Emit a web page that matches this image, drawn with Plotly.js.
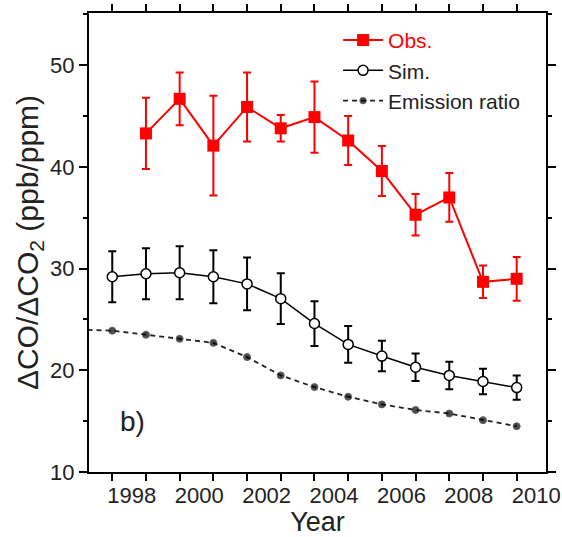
<!DOCTYPE html>
<html>
<head>
<meta charset="utf-8">
<script src="https://cdn.plot.ly/plotly-3.0.1.min.js"></script>
<style>html,body{margin:0;padding:0;background:#fff;}#chart{width:562px;height:537px;}</style>
</head>
<body>
<div id="chart"></div>
<script>
// Data
const obsYears = [1998, 1999, 2000, 2001, 2002, 2003, 2004, 2005, 2006, 2007, 2008, 2009];
const obsValues = [43.3, 46.7, 42.1, 45.9, 43.8, 44.9, 42.6, 39.6, 35.3, 37.0, 28.7, 29.0];
const obsErrors = [3.5, 2.6, 4.9, 3.4, 1.3, 3.5, 2.4, 2.45, 2.05, 2.4, 1.6, 2.15];

const simYears = [1997, 1998, 1999, 2000, 2001, 2002, 2003, 2004, 2005, 2006, 2007, 2008, 2009];
const simValues = [29.2, 29.5, 29.6, 29.2, 28.5, 27.05, 24.6, 22.55, 21.4, 20.3, 19.5, 18.9, 18.3];
const simErrors = [2.5, 2.5, 2.6, 2.6, 2.6, 2.5, 2.2, 1.8, 1.5, 1.35, 1.35, 1.25, 1.2];

const emisYears = [1996, 1997, 1998, 1999, 2000, 2001, 2002, 2003, 2004, 2005, 2006, 2007, 2008, 2009];
const emisValues = [24.0, 23.9, 23.5, 23.1, 22.7, 21.3, 19.5, 18.35, 17.4, 16.65, 16.1, 15.75, 15.1, 14.5];

const labelYears = [1998, 2000, 2002, 2004, 2006, 2008, 2010];
const labelText = labelYears.map(String);

const RED = '#ff0000';
const FONT = 'Liberation Sans, Arial, sans-serif';

const emisMarkerSizes = emisYears.map((y, i) => i === 0 ? 0 : 7);

const traces = [
  {
    x: obsYears, y: obsValues, name: '<span style="color:#ff0000">Obs.</span>',
    type: 'scatter', mode: 'lines+markers',
    line: {color: RED, width: 2},
    marker: {symbol: 'square', size: 12, color: RED},
    error_y: {type: 'data', array: obsErrors, visible: true, color: RED, thickness: 2, width: 4}
  },
  {
    x: simYears, y: simValues, name: 'Sim.',
    type: 'scatter', mode: 'lines+markers',
    line: {color: '#000', width: 1.5},
    marker: {symbol: 'circle', size: 10, color: '#fff', line: {color: '#000', width: 1.5}},
    error_y: {type: 'data', array: simErrors, visible: true, color: '#000', thickness: 2, width: 4}
  },
  {
    x: emisYears, y: emisValues, name: 'Emission ratio',
    type: 'scatter', mode: 'lines+markers',
    line: {color: '#222', width: 1.8, dash: '5px,4px'},
    marker: {symbol: 'circle', size: emisMarkerSizes, color: '#000'}
  }
];

const x0 = 1996.31, x1 = 2009.87, labelShift = 0.42;

const layout = {
  width: 562, height: 537,
  margin: {l: 89, r: 16, t: 13, b: 65},
  paper_bgcolor: '#fff', plot_bgcolor: '#fff',
  font: {family: FONT, color: '#222', size: 22},
  showlegend: true,
  legend: {
    x: 0.545, y: 0.985, xanchor: 'left', yanchor: 'top',
    bgcolor: 'rgba(0,0,0,0)', borderwidth: 0,
    font: {family: FONT, size: 21, color: '#222'},
    itemwidth: 40, tracegroupgap: 0
  },
  xaxis: {
    range: [x0, x1], showgrid: false, zeroline: false,
    showline: true, linecolor: '#000', linewidth: 2, mirror: 'ticks',
    ticks: 'outside', ticklen: 7, tickwidth: 2, tickcolor: '#000',
    tickmode: 'linear', tick0: 1997, dtick: 1,
    showticklabels: false,
    title: {text: 'Year', font: {family: FONT, size: 27, color: '#222'}, standoff: 44}
  },
  xaxis2: {
    overlaying: 'x', anchor: 'y', side: 'bottom',
    range: [x0 + labelShift, x1 + labelShift],
    showgrid: false, zeroline: false, showline: false,
    ticks: 'outside', ticklen: 4, tickcolor: 'rgba(0,0,0,0)',
    tickmode: 'array', tickvals: labelYears, ticktext: labelText,
    tickfont: {family: FONT, size: 22, color: '#222'}
  },
  yaxis: {
    range: [10, 55.14], showgrid: false, zeroline: false,
    showline: true, linecolor: '#000', linewidth: 2, mirror: 'ticks',
    ticks: 'outside', ticklen: 8, tickwidth: 2, tickcolor: '#000',
    tickmode: 'linear', tick0: 10, dtick: 10,
    tickfont: {family: FONT, size: 22, color: '#222'},
    minor: {ticks: 'outside', ticklen: 4, tickwidth: 2, tickcolor: '#000', dtick: 5, tick0: 10},
    title: {text: 'ΔCO/ΔCO<sub>2</sub> (ppb/ppm)', font: {family: FONT, size: 30, color: '#222'}, standoff: 3}
  },
  annotations: [
    {xref: 'paper', yref: 'paper', x: 0.063, y: 0.11, xanchor: 'left', yanchor: 'middle',
     text: 'b)', showarrow: false, font: {family: FONT, size: 28, color: '#222'}}
  ]
};

// invisible helper trace so the label axis (xaxis2) is drawn
traces.push({x: [labelYears[0]], y: [null], xaxis: 'x2', yaxis: 'y', showlegend: false, hoverinfo: 'skip', mode: 'markers'});

Plotly.newPlot('chart', traces, layout, {displayModeBar: false, staticPlot: true});
</script>
</body>
</html>
